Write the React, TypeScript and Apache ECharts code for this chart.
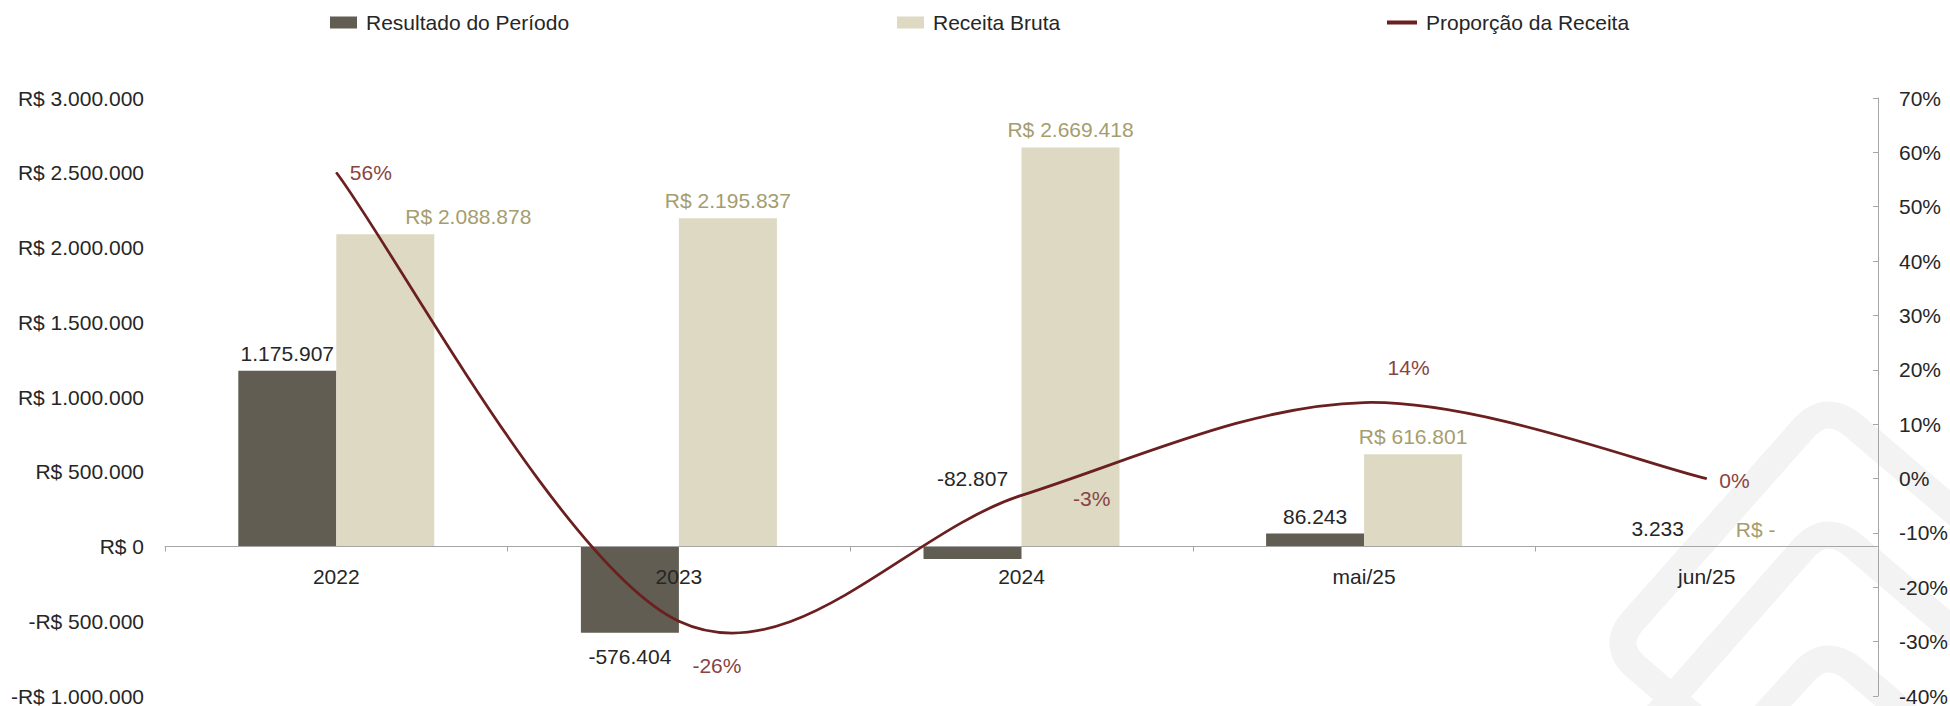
import React, { useEffect, useRef } from "react";
import * as echarts from "echarts";

const categories = ["2022", "2023", "2024", "mai/25", "jun/25"];
const resultadoPeriodo = [1175907, -576404, -82807, 86243, 3233];
const receitaBruta = [2088878, 2195837, 2669418, 616801, 0];
const proporcaoReceita = [0.5629, -0.2625, -0.031, 0.1398, 0];

const leftMin = -1000000;
const leftMax = 3000000;
const leftInterval = 500000;
const rightMin = -0.4;
const rightMax = 0.7;
const rightInterval = 0.1;

const FONT = "'Liberation Sans', Arial, sans-serif";
const FS = 21;
const DARK = "#615D52";
const LIGHT = "#DDD9C3";
const LINE = "#6B1F1F";
const LINE_LABEL = "#8A4343";
const LIGHT_LABEL = "#A59D6E";
const TEXT = "#262626";
const AXIS = "#A6A6A6";

function fmt(n: number): string {
  return Math.abs(Math.round(n))
    .toString()
    .replace(/\B(?=(\d{3})+(?!\d))/g, ".");
}

let registered = false;
function registerWatermark() {
  if (registered) return;
  registered = true;
  echarts.graphic.registerShape(
    "wm1",
    echarts.graphic.extendPath(
      "M 1700 722 L 1636 667 Q 1612 646 1632 622 L 1802 430 Q 1826 402 1854 426 L 1990 542",
      {}
    )
  );
  echarts.graphic.registerShape(
    "wm2",
    echarts.graphic.extendPath(
      "M 1644 730 L 1802 550 Q 1826 522 1854 546 L 1990 662",
      {}
    )
  );
  echarts.graphic.registerShape(
    "wm3",
    echarts.graphic.extendPath(
      "M 1751 730 L 1802 674 Q 1826 646 1854 670 L 1960 760",
      {}
    )
  );
}

// Excel-like smoothed curve (Catmull-Rom as cubic Bezier) through points given by the axes
function smoothPath(pts: number[][]): string {
  const n = pts.length;
  let d = `M ${pts[0][0]} ${pts[0][1]}`;
  for (let i = 0; i < n - 1; i++) {
    const p0 = pts[Math.max(0, i - 1)];
    const p1 = pts[i];
    const p2 = pts[i + 1];
    const p3 = pts[Math.min(n - 1, i + 2)];
    const c1x = p1[0] + (p2[0] - p0[0]) / 6;
    const c1y = p1[1] + (p2[1] - p0[1]) / 6;
    const c2x = p2[0] - (p3[0] - p1[0]) / 6;
    const c2y = p2[1] - (p3[1] - p1[1]) / 6;
    d += ` C ${c1x} ${c1y} ${c2x} ${c2y} ${p2[0]} ${p2[1]}`;
  }
  return d;
}

export default function App() {
  const ref = useRef<HTMLDivElement>(null);

  useEffect(() => {
    document.body.style.margin = "0";
    registerWatermark();
    const chart = echarts.init(ref.current!, null, { renderer: "svg" });

    const darkLabelCfg: any[] = [
      { position: "top" },
      { position: "bottom", offset: [0, 6] },
      { position: "top", offset: [0, -51] },
      { position: "top" },
      { position: "top" },
    ];
    const lightLabelCfg: any[] = [
      { offset: [83, 0] },
      {},
      {},
      {},
      {},
    ];
    const lineLabelCfg: any[] = [
      { offset: [8, 0] },
      { offset: [8, 44] },
      { offset: [46, 3] },
      { offset: [18, -35] },
      { offset: [7, 2] },
    ];

    const wmStyle = { fill: "none", stroke: "#F3F3F3", lineWidth: 27 };

    const legendBase = {
      top: 12,
      padding: 0,
      itemWidth: 27,
      itemHeight: 12,
      textStyle: { fontFamily: FONT, fontSize: FS, color: TEXT, padding: [0, 0, 0, 4] },
    };

    chart.setOption({
      animation: false,
      backgroundColor: "#ffffff",
      textStyle: { fontFamily: FONT },
      graphic: [
        { type: "wm1", z: 0, silent: true, style: wmStyle },
        { type: "wm2", z: 0, silent: true, style: wmStyle },
        { type: "wm3", z: 0, silent: true, style: wmStyle },
      ],
      legend: [
        { ...legendBase, left: 330, data: [{ name: "Resultado do Período", icon: "rect" }] },
        { ...legendBase, left: 897, data: [{ name: "Receita Bruta", icon: "rect" }] },
        {
          ...legendBase,
          left: 1387,
          itemWidth: 30,
          itemHeight: 4,
          data: [{ name: "Proporção da Receita", icon: "rect" }],
        },
      ],
      grid: {
        left: 165,
        right: 72,
        top: 98,
        bottom: 10,
        containLabel: false,
        outerBoundsMode: "none",
      },
      xAxis: {
        type: "category",
        data: categories,
        z: 3,
        axisLine: { show: true, onZero: true, onZeroAxisIndex: 0, lineStyle: { color: AXIS, width: 1 } },
        axisTick: { show: true, length: 5, lineStyle: { color: AXIS } },
        axisLabel: { fontFamily: FONT, fontSize: FS, color: TEXT, margin: -130 },
        splitLine: { show: false },
      },
      yAxis: [
        {
          type: "value",
          min: leftMin,
          max: leftMax,
          interval: leftInterval,
          axisLine: { show: false },
          axisTick: { show: false },
          splitLine: { show: false },
          axisLabel: {
            fontFamily: FONT,
            fontSize: FS,
            color: TEXT,
            margin: 21,
            formatter: (v: number) => (v === 0 ? "R$ 0" : (v < 0 ? "-" : "") + "R$ " + fmt(v)),
          },
        },
        {
          type: "value",
          position: "right",
          min: rightMin,
          max: rightMax,
          interval: rightInterval,
          axisLine: { show: true, lineStyle: { color: AXIS, width: 1 } },
          axisTick: { show: true, inside: true, length: 5, lineStyle: { color: AXIS } },
          splitLine: { show: false },
          axisLabel: {
            fontFamily: FONT,
            fontSize: FS,
            color: TEXT,
            margin: 21,
            formatter: (v: number) => Math.round(v * 100) + "%",
          },
        },
      ],
      series: [
        {
          name: "Resultado do Período",
          type: "bar",
          yAxisIndex: 0,
          barWidth: 98,
          barGap: "0%",
          itemStyle: { color: DARK },
          z: 2,
          data: resultadoPeriodo.map((v, i) => ({
            value: v,
            label: {
              show: true,
              distance: 7,
              fontFamily: FONT,
              fontSize: FS,
              color: TEXT,
              formatter: () => (v < 0 ? "-" : "") + fmt(v),
              ...darkLabelCfg[i],
            },
          })),
        },
        {
          name: "Receita Bruta",
          type: "bar",
          yAxisIndex: 0,
          barWidth: 98,
          barGap: "0%",
          itemStyle: { color: LIGHT },
          z: 2,
          data: receitaBruta.map((v, i) => ({
            value: v,
            label: {
              show: true,
              position: "top",
              distance: 7,
              fontFamily: FONT,
              fontSize: FS,
              color: LIGHT_LABEL,
              formatter: () => (v === 0 ? "R$ -" : "R$ " + fmt(v)),
              ...lightLabelCfg[i],
            },
          })),
        },
        {
          name: "curve",
          type: "custom",
          yAxisIndex: 1,
          z: 5,
          silent: true,
          data: proporcaoReceita.map((v, i) => [i, v]),
          encode: { x: 0, y: 1 },
          renderItem: (params: any, api: any) => {
            if (params.dataIndex !== 0) return null;
            const pts = proporcaoReceita.map((v, i) => api.coord([i, v]));
            return {
              type: "path",
              shape: { pathData: smoothPath(pts) },
              style: { fill: "none", stroke: LINE, lineWidth: 2.75, lineJoin: "round" },
            };
          },
        },
        {
          name: "Proporção da Receita",
          type: "line",
          yAxisIndex: 1,
          symbol: "circle",
          symbolSize: 1,
          showSymbol: true,
          z: 6,
          lineStyle: { color: LINE, width: 0, opacity: 0 },
          itemStyle: { color: LINE },
          data: proporcaoReceita.map((v, i) => ({
            value: v,
            label: {
              show: true,
              position: "right",
              distance: 5,
              fontFamily: FONT,
              fontSize: FS,
              color: LINE_LABEL,
              formatter: () => Math.round(v * 100) + "%",
              ...lineLabelCfg[i],
            },
          })),
        },
      ],
    });

    return () => {
      chart.dispose();
    };
  }, []);

  return <div ref={ref} style={{ width: 1950, height: 706 }} />;
}
